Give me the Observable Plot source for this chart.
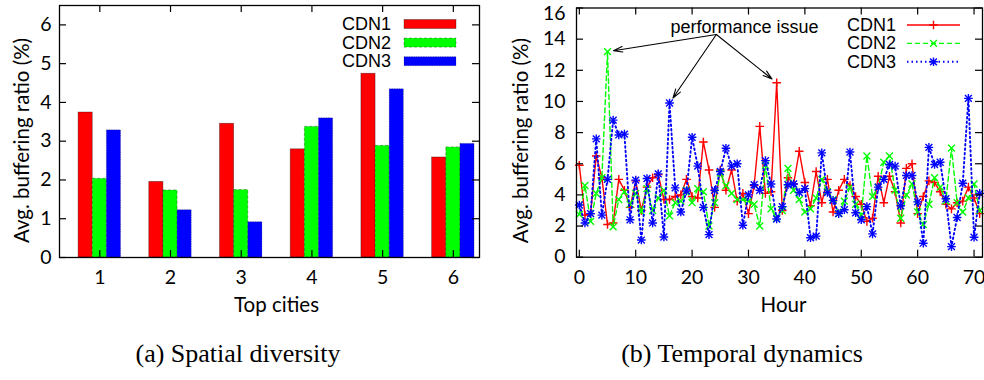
<!DOCTYPE html>
<html>
<head>
<meta charset="utf-8">
<script src="https://cdn.jsdelivr.net/npm/d3@7"></script>
<script src="https://cdn.jsdelivr.net/npm/@observablehq/plot@0.6"></script>
<style>
  body { margin: 0; background: #fff; }
  #fig { position: relative; width: 984px; height: 380px; overflow: hidden; background: #fff; }
  #a { position: absolute; left: 0; top: 0; width: 490px; }
  #b { position: absolute; left: 490px; top: 0; width: 494px; }
  .cap { position: absolute; top: 339px; font-family: "Liberation Serif", serif; font-size: 26px;
         transform: translateX(-50%); white-space: nowrap; color: #000; }
</style>
</head>
<body>
<div id="fig">
  <div id="a"></div>
  <div id="b"></div>
  <div class="cap" style="left:238px">(a) Spatial diversity</div>
  <div class="cap" style="left:742px">(b) Temporal dynamics</div>
</div>
<script>
// ---- (a) average buffering ratio in the top cities ----
const cities = [1, 2, 3, 4, 5, 6];
const cdns = ["CDN1", "CDN2", "CDN3"];
const cityCDN1 = [3.74, 1.95, 3.45, 2.79, 4.74, 2.58];
const cityCDN2 = [2.03, 1.73, 1.74, 3.37, 2.88, 2.84];
const cityCDN3 = [3.28, 1.22, 0.91, 3.59, 4.34, 2.93];
const cityTicksY = [0, 1, 2, 3, 4, 5, 6];

// ---- (b) average buffering ratio per hour ----
const hourCDN1 = [5.9, 2.7, 2.8, 6.5, 5.1, 2.1, 2.2, 5.0, 4.3, 3.2, 4.9, 3.0, 4.5, 5.1, 5.3, 3.7, 3.7, 3.9,
                  4.0, 5.0, 3.9, 3.8, 7.4, 5.6, 3.2, 5.6, 4.3, 5.6, 3.6, 4.1, 2.8, 4.6, 8.4, 4.1, 4.2, 11.2,
                  3.0, 5.1, 4.7, 6.8, 4.8, 3.3, 5.5, 3.5, 5.0, 2.9, 4.3, 5.0, 4.6, 3.9, 3.4, 2.3, 2.5, 5.2,
                  3.5, 5.2, 4.2, 2.2, 5.7, 6.0, 2.8, 3.9, 4.9, 4.8, 4.2, 3.4, 3.1, 3.5, 3.6, 4.5, 3.8, 2.8];
const hourCDN2 = [2.75, 4.6, 2.3, 4.1, 5.1, 13.2, 1.95, 3.7, 4.2, 3.4, 4.1, 2.9, 4.4, 3.0, 3.8, 4.3, 2.65, 3.5,
                  3.6, 4.3, 3.5, 4.4, 4.2, 2.0, 3.5, 5.4, 4.6, 4.1, 3.7, 3.7, 3.6, 3.4, 2.0, 5.9, 3.1, 2.5,
                  3.0, 5.7, 4.3, 3.7, 2.9, 3.1, 3.8, 5.0, 4.2, 3.7, 2.8, 3.6, 4.5, 3.4, 2.7, 6.5, 3.9, 4.5,
                  6.1, 6.5, 4.3, 2.5, 4.0, 4.7, 2.9, 2.1, 3.4, 5.1, 4.5, 3.6, 7.0, 3.5, 2.9, 3.8, 4.7, 3.0];
const hourCDN3 = [3.35, 2.2, 2.8, 7.6, 2.7, 5.0, 8.8, 7.85, 7.9, 2.4, 4.95, 1.1, 5.05, 2.2, 5.35, 1.3, 9.9, 4.45,
                  2.9, 4.25, 7.7, 5.85, 3.2, 1.45, 4.3, 5.5, 7.0, 5.85, 6.0, 2.05, 4.0, 4.65, 4.3, 6.2, 4.7, 2.45,
                  3.25, 4.65, 4.7, 4.15, 4.4, 1.25, 1.35, 6.7, 4.15, 3.65, 2.8, 3.05, 6.75, 2.85, 2.4, 3.25, 1.5, 4.5,
                  5.0, 5.95, 5.85, 3.3, 5.25, 5.25, 3.55, 0.9, 7.05, 5.95, 6.1, 3.75, 0.68, 2.55, 4.75, 10.2, 1.28, 4.1];
const hourTicksX = [0, 10, 20, 30, 40, 50, 60, 70];
const hourTicksY = [0, 2, 4, 6, 8, 10, 12, 14, 16];
const noteText = "performance issue";
// spikes the note points at: [series, hour]
const issues = [["CDN2", 5], ["CDN3", 16], ["CDN1", 35]];

const colors = {CDN1: "#ff0000", CDN2: "#00ff00", CDN3: "#0000ff"};
const tickFont = "Lato, 'Open Sans', sans-serif";
const keyFont = "'Liberation Sans', Arial, sans-serif";
const titleSize = 20.5;

// gnuplot-style point symbols
const symPlus = {draw(c, s) { const r = Math.sqrt(s / Math.PI); c.moveTo(-r, 0); c.lineTo(r, 0); c.moveTo(0, -r); c.lineTo(0, r); }};
const symTimes = {draw(c, s) { const r = Math.sqrt(s / Math.PI) * 0.8; c.moveTo(-r, -r); c.lineTo(r, r); c.moveTo(-r, r); c.lineTo(r, -r); }};

// ---------------- chart (a) ----------------
const cityValues = {CDN1: cityCDN1, CDN2: cityCDN2, CDN3: cityCDN3};
const barRows = cities.flatMap((city, i) => cdns.map((cdn, slot) => ({city, cdn, slot, ratio: cityValues[cdn][i]})));
const barW = 0.2;
const barDash = {CDN1: null, CDN2: "3,2", CDN3: "1.2,1.2"};

const A = {w: 490, h: 320, ml: 59, mr: 11, mt: 5, mb: 63};
const aPW = A.w - A.ml - A.mr, aPH = A.h - A.mt - A.mb;
const tickLen = 7;

const chartA = Plot.plot({
  width: A.w, height: A.h,
  marginLeft: A.ml, marginRight: A.mr, marginTop: A.mt, marginBottom: A.mb,
  x: {type: "linear", domain: [0.43, 6.37], axis: null},
  y: {domain: [0, 6.5], axis: null},
  style: {fontFamily: tickFont, fontSize: "19.5px", color: "#000", background: "#fff"},
  marks: [
    ...cdns.map(cdn => Plot.rect(barRows.filter(d => d.cdn === cdn), {
      x1: d => d.city + (d.slot - 1) * barW - barW / 2,
      x2: d => d.city + (d.slot - 1) * barW + barW / 2,
      y1: 0, y2: "ratio",
      fill: colors[cdn], stroke: "#000", strokeOpacity: 0.45, strokeWidth: 0.7,
      strokeDasharray: barDash[cdn]
    })),
    Plot.ruleX(cities, {stroke: "#000", strokeWidth: 1.2, insetTop: aPH - tickLen}),
    Plot.ruleX(cities, {stroke: "#000", strokeWidth: 1.2, insetBottom: aPH - tickLen}),
    Plot.ruleY(cityTicksY, {stroke: "#000", strokeWidth: 1.2, insetRight: aPW - tickLen}),
    Plot.ruleY(cityTicksY, {stroke: "#000", strokeWidth: 1.2, insetLeft: aPW - tickLen}),
    Plot.frame({stroke: "#000", strokeWidth: 1.3}),
    Plot.axisX(cities, {tickSize: 0, tickPadding: 12.5, label: null, tickFormat: d => String(d)}),
    Plot.axisY(cityTicksY, {tickSize: 0, tickPadding: 8, label: null}),
    Plot.text(["Top cities"], {text: d => d, frameAnchor: "bottom", lineAnchor: "middle", textAnchor: "middle",
      dy: 48, dx: 7, fontSize: titleSize}),
    Plot.text(["Avg. buffering ratio (%)"], {text: d => d, frameAnchor: "left", lineAnchor: "middle", textAnchor: "middle",
      rotate: -90, dx: -37.5, dy: 9, fontSize: titleSize})
  ]
});
document.getElementById("a").appendChild(chartA);

// key for chart (a)
{
  const svg = d3.select(chartA);
  const g = svg.append("g").attr("font-family", keyFont).attr("font-size", 18);
  cdns.forEach((cdn, i) => {
    const y = 24 + i * 18.6;
    g.append("text").attr("x", 391).attr("y", y).attr("text-anchor", "end")
      .attr("dominant-baseline", "central").text(cdn);
    g.append("rect").attr("x", 404).attr("y", y - 4.5).attr("width", 52).attr("height", 9)
      .attr("fill", colors[cdn]).attr("stroke", "#000").attr("stroke-opacity", 0.45).attr("stroke-width", 0.7)
      .attr("stroke-dasharray", barDash[cdn]);
  });
}

// ---------------- chart (b) ----------------
const hourValues = {CDN1: hourCDN1, CDN2: hourCDN2, CDN3: hourCDN3};
const hourRows = Object.fromEntries(cdns.map(cdn => [cdn, hourValues[cdn].map((ratio, hour) => ({hour, ratio}))]));
const lineStyle = {
  CDN1: {strokeWidth: 1.4, strokeDasharray: null},
  CDN2: {strokeWidth: 1.4, strokeDasharray: "5,3"},
  CDN3: {strokeWidth: 1.9, strokeDasharray: "1.5,3"}
};
const markerSyms = {CDN1: [symPlus], CDN2: [symTimes], CDN3: [symPlus, symTimes]};
const issueRows = issues.map(([cdn, hour]) => ({hour, ratio: hourValues[cdn][hour]}));
const noteAt = {hour: 29.3, ratio: 14.75};
const arrowFrom = {hour: 24.3, ratio: 14.3};

const B = {w: 494, h: 320, ml: 86, mr: 2, mt: 7.5, mb: 63.3};
const bPW = B.w - B.ml - B.mr, bPH = B.h - B.mt - B.mb;
const topTick = hourTicksY[hourTicksY.length - 1];

const chartB = Plot.plot({
  width: B.w, height: B.h,
  marginLeft: B.ml, marginRight: B.mr, marginTop: B.mt, marginBottom: B.mb,
  x: {domain: [-0.5, 71.5], axis: null},
  y: {domain: [0, 16], axis: null},
  style: {fontFamily: tickFont, fontSize: "19.5px", color: "#000", background: "#fff"},
  marks: [
    ...cdns.flatMap(cdn => [
      Plot.line(hourRows[cdn], {x: "hour", y: "ratio", stroke: colors[cdn], ...lineStyle[cdn]}),
      ...markerSyms[cdn].map(sym => Plot.dot(hourRows[cdn], {x: "hour", y: "ratio", symbol: sym, r: 4.3,
        fill: "none", stroke: colors[cdn], strokeWidth: 1.4}))
    ]),
    Plot.ruleX(hourTicksX, {stroke: "#000", strokeWidth: 1.2, insetTop: bPH - tickLen}),
    Plot.ruleX(hourTicksX, {stroke: "#000", strokeWidth: 1.2, insetBottom: bPH - tickLen}),
    Plot.ruleY(hourTicksY, {stroke: "#000", strokeWidth: 1.2, insetRight: bPW - tickLen}),
    Plot.ruleY(hourTicksY, {stroke: "#000", strokeWidth: 1.2, insetLeft: bPW - tickLen}),
    Plot.frame({stroke: "#000", strokeWidth: 1.3}),
    Plot.arrow(issueRows, {x1: () => arrowFrom.hour, y1: () => arrowFrom.ratio, x2: "hour", y2: "ratio",
      insetEnd: 6, headLength: 13, headAngle: 34, stroke: "#000", strokeWidth: 1.1}),
    Plot.text([noteText], {text: d => d, x: () => noteAt.hour, y: () => noteAt.ratio,
      fontFamily: keyFont, fontSize: 18}),
    Plot.axisX(hourTicksX, {tickSize: 0, tickPadding: 12.5, label: null, tickFormat: d => String(d)}),
    Plot.axisY(hourTicksY.filter(t => t !== topTick), {tickSize: 0, tickPadding: 11, label: null, tickFormat: d => String(d)}),
    // the top label sits a little lower so it stays inside the figure
    Plot.axisY([topTick], {tickSize: 0, tickPadding: 11, label: null, tickFormat: d => String(d), dy: 6}),
    Plot.text(["Hour"], {text: d => d, frameAnchor: "bottom", lineAnchor: "middle", textAnchor: "middle",
      dy: 48, dx: 4, fontSize: titleSize}),
    Plot.text(["Avg. buffering ratio (%)"], {text: d => d, frameAnchor: "left", lineAnchor: "middle", textAnchor: "middle",
      rotate: -90, dx: -55.5, dy: 8, fontSize: titleSize})
  ]
});
document.getElementById("b").appendChild(chartB);

// key for chart (b)
{
  const svg = d3.select(chartB);
  const g = svg.append("g").attr("font-family", keyFont).attr("font-size", 18);
  const symPath = {
    CDN1: "M-4.3,0H4.3M0,-4.3V4.3",
    CDN2: "M-3.4,-3.4L3.4,3.4M-3.4,3.4L3.4,-3.4",
    CDN3: "M-4.3,0H4.3M0,-4.3V4.3M-3.4,-3.4L3.4,3.4M-3.4,3.4L3.4,-3.4"
  };
  cdns.forEach((cdn, i) => {
    const y = 25 + i * 18.4;
    g.append("text").attr("x", 406).attr("y", y).attr("text-anchor", "end")
      .attr("dominant-baseline", "central").text(cdn);
    g.append("line").attr("x1", 417).attr("x2", 470).attr("y1", y).attr("y2", y)
      .attr("stroke", colors[cdn]).attr("stroke-width", lineStyle[cdn].strokeWidth)
      .attr("stroke-dasharray", lineStyle[cdn].strokeDasharray);
    g.append("path").attr("d", symPath[cdn]).attr("transform", `translate(443.5,${y})`)
      .attr("fill", "none").attr("stroke", colors[cdn]).attr("stroke-width", 1.4);
  });
}
</script>
</body>
</html>
